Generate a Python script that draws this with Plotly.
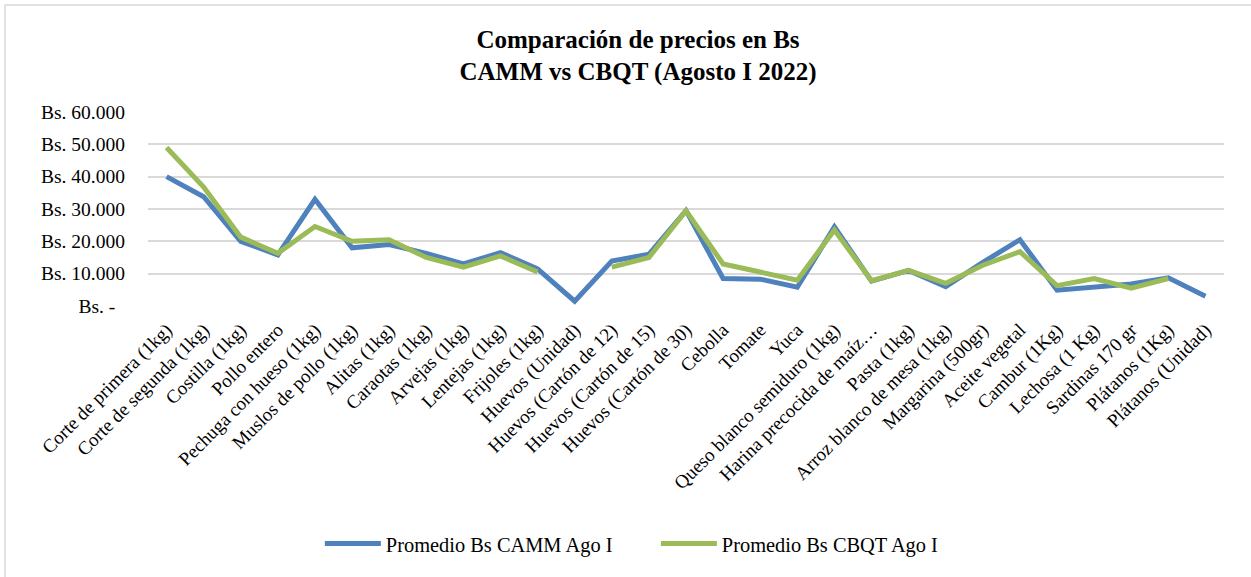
import plotly.graph_objects as go

categorias = [
    "Corte de primera (1kg)", "Corte de segunda (1kg)", "Costilla (1kg)", "Pollo entero",
    "Pechuga con hueso (1kg)", "Muslos de pollo (1kg)", "Alitas (1kg)", "Caraotas (1kg)",
    "Arvejas (1kg)", "Lentejas (1kg)", "Frijoles (1kg)", "Huevos (Unidad)",
    "Huevos (Cartón de 12)", "Huevos (Cartón de 15)", "Huevos (Cartón de 30)", "Cebolla",
    "Tomate", "Yuca", "Queso blanco semiduro (1kg)", "Harina precocida de maíz…",
    "Pasta (1kg)", "Arroz blanco de mesa (1kg)", "Margarina (500gr)", "Aceite vegetal",
    "Cambur (1Kg)", "Lechosa (1 Kg)", "Sardinas 170 gr", "Plátanos (1Kg)", "Plátanos (Unidad)",
]

camm = [40000, 33800, 20000, 15800, 33000, 18000, 19000, 16300, 13000, 16500, 11500, 1500,
        13900, 16000, 29500, 8500, 8300, 5800, 24500, 7700, 11000, 6000, 13500, 20500,
        4900, 5800, 6800, 8700, 3000]

cbqt = [49000, 36800, 21300, 16300, 24600, 20000, 20500, 15000, 12000, 15500, 10500, None,
        12000, 15000, 29500, 13000, 10500, 8000, 23500, 7800, 11000, 7000, 12600, 16800,
        6300, 8500, 5500, 8500, None]

y_ticks = [0, 10000, 20000, 30000, 40000, 50000, 60000]
y_labels = ["Bs. -\u00a0\u00a0", "Bs. 10.000", "Bs. 20.000", "Bs. 30.000",
            "Bs. 40.000", "Bs. 50.000", "Bs. 60.000"]

FUENTE = "Liberation Serif"

fig = go.Figure()
fig.add_trace(go.Scatter(x=categorias, y=camm, name="Promedio Bs CAMM Ago I", mode="lines",
                         line=dict(color="#4F81BD", width=5)))
fig.add_trace(go.Scatter(x=categorias, y=cbqt, name="Promedio Bs CBQT Ago I", mode="lines",
                         line=dict(color="#9BBB59", width=5)))

# borde gris del gráfico
fig.add_shape(type="rect", xref="paper", yref="paper",
              x0=-0.1329, x1=1.03, y0=-1.42, y1=1.5515,
              line=dict(color="#D9D9D9", width=1.5), layer="below")

fig.update_layout(
    width=1251, height=577,
    margin=dict(l=148, r=27, t=112, b=271, autoexpand=False),
    paper_bgcolor="white", plot_bgcolor="white",
    font=dict(family=FUENTE, color="black", size=16),
    title=dict(text="<b>Comparación de precios en Bs<br>CAMM vs CBQT (Agosto I 2022)</b>",
               x=0.51, xanchor="center", y=0.917, yanchor="top",
               font=dict(family=FUENTE, size=25, color="black")),
    xaxis=dict(range=[-0.5, 28.5], tickangle=-45, showgrid=False, showline=False,
               ticks="", ticklabelstandoff=8, tickfont=dict(size=19), automargin=False),
    yaxis=dict(range=[0, 60000], tickvals=y_ticks, ticktext=y_labels,
               gridcolor="#D9D9D9", gridwidth=1.5, zeroline=False, showline=False,
               ticks="", ticklabelstandoff=22, tickfont=dict(size=19.5), automargin=False),
    legend=dict(orientation="h", x=0.472, xanchor="center", y=-1.226, yanchor="middle",
                font=dict(size=20.4), itemwidth=56, entrywidth=265, entrywidthmode="pixels",
                traceorder="normal"),
    showlegend=True,
)

fig.write_html("out.html", config={"displayModeBar": False},
               post_script="document.body.style.margin='0';")
